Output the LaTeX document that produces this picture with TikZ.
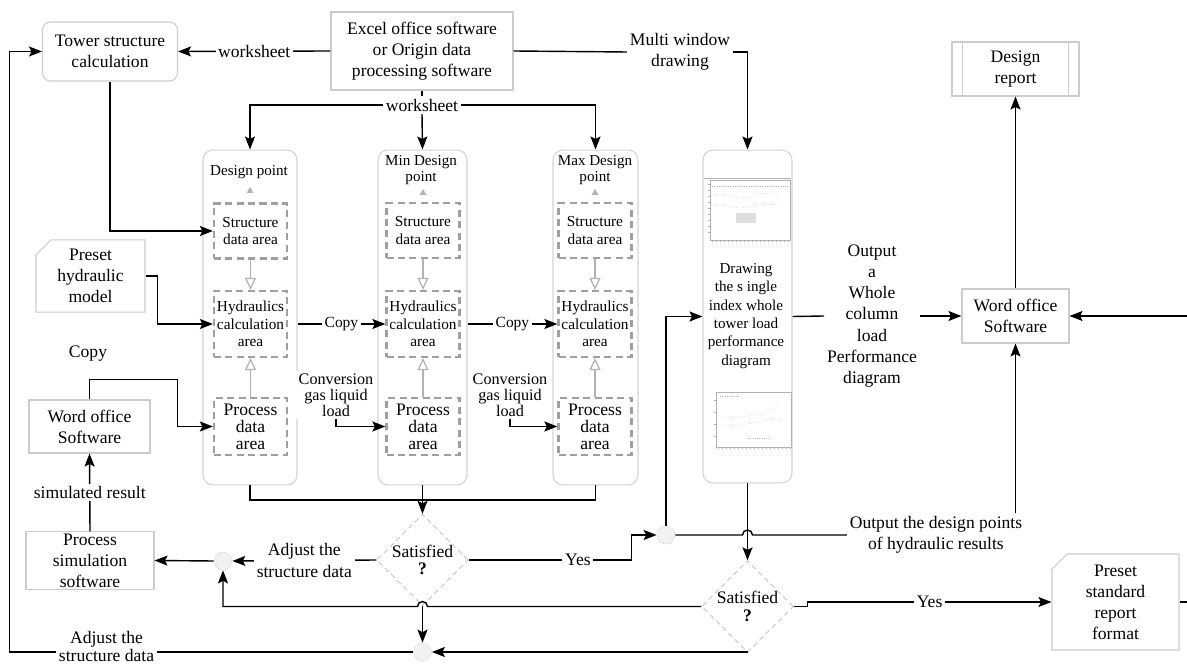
\documentclass[tikz,border=0pt]{standalone}
\usepackage{fontspec}
\setmainfont{Liberation Serif}
\usetikzlibrary{positioning,arrows.meta,shapes.geometric,shapes.misc,calc}

\begin{document}
\begin{tikzpicture}[
        x=0.02cm, y=0.02cm,
        box/.style={rectangle, draw=gray!40, line width=0.6pt, align=center, inner sep=1pt, font=\fontsize{10}{12}\selectfont},
        rbox/.style={box, rounded corners=0.16cm},
        cutbox/.style={box, chamfered rectangle, chamfered rectangle corners=north west, chamfered rectangle xsep=0.15cm, chamfered rectangle ysep=0.15cm},
        colbox/.style={rectangle, draw=gray!35, line width=0.6pt, rounded corners=0.2cm, minimum height=6.7cm},
        area/.style={rectangle, draw=gray!75, line width=1.3pt, dash pattern=on 4pt off 2.5pt, align=center, inner sep=0pt, minimum width=1.46cm, font=\fontsize{8.7}{10}\selectfont},
        procfont/.style={font=\fontsize{10}{9.6}\selectfont},
        lab/.style={fill=white, inner sep=1.5pt, align=center, font=\fontsize{10}{12}\selectfont},
        small/.style={align=center, inner sep=0pt, font=\fontsize{8.6}{8.8}\selectfont},
        dec/.style={diamond, draw=gray!55, densely dashed, line width=0.4pt, inner sep=0pt, align=center, minimum width=1.78cm, minimum height=1.08cm, font=\fontsize{10}{10}\selectfont},
        joint/.style={circle, draw=gray!55, densely dotted, fill=gray!10, minimum size=0.36cm, inner sep=0pt},
        tri/.style={regular polygon, regular polygon sides=3, fill=gray!60, inner sep=0pt, minimum size=0.16cm},
        arrow/.style={-{Stealth[length=2.6mm, width=2mm, inset=0.5mm]}, line width=0.8pt},
        garrow/.style={-{Triangle[open, length=2.4mm, width=2.2mm]}, draw=gray!60, line width=0.7pt}
    ]
    \useasboundingbox (0,0) rectangle (1187,-668);
    \clip (0,0) rectangle (1187,-668);

    % top row
    \node[rbox, minimum width=2.7cm, minimum height=1.18cm] (tower) at (110,-51.5) {Tower structure\\calculation};
    \node[box, minimum width=3.64cm, minimum height=1.56cm] (excel) at (422,-51) {Excel office software\\or Origin data\\processing software};
    \node[lab] (mwlab) at (680,-52) {Multi window\\drawing};
    \node[lab] (ws2) at (422,-105) {worksheet};

    % the three point columns
    \node[colbox, minimum width=1.88cm] (dcol) at (250,-317.5) {};
    \node[colbox, minimum width=1.78cm] (ncol) at (422.5,-317.5) {};
    \node[colbox, minimum width=1.7cm] (xcol) at (595.5,-317.5) {};

    \node[small] (dlab) at (249,-172) {Design point};
    \node[small] (nlab) at (421,-170) {Min Design\\point};
    \node[small] (xlab) at (595,-170) {Max Design\\point};
    \node[tri] (dtri) at (250,-191) {};
    \node[tri] (ntri) at (423,-193) {};
    \node[tri] (xtri) at (595,-193) {};

    \node[area, minimum height=1.1cm] (dstr) at (250.5,-231) {Structure\\data area};
    \node[area, minimum height=1.32cm] (dhyd) at (250.5,-324) {Hydraulics\\calculation\\area};
    \node[area, procfont, minimum height=1.14cm] (dproc) at (250.5,-426.5) {Process\\data\\area};
    \node[area, minimum height=1.1cm] (nstr) at (423,-230.5) {Structure\\data area};
    \node[area, minimum height=1.32cm] (nhyd) at (423,-324) {Hydraulics\\calculation\\area};
    \node[area, procfont, minimum height=1.14cm] (nproc) at (423,-426.5) {Process\\data\\area};
    \node[area, minimum height=1.1cm] (xstr) at (595,-230.5) {Structure\\data area};
    \node[area, minimum height=1.32cm] (xhyd) at (595,-324) {Hydraulics\\calculation\\area};
    \node[area, procfont, minimum height=1.14cm] (xproc) at (595,-426.5) {Process\\data\\area};

    % plot column
    \node[colbox, minimum width=1.78cm, minimum height=6.66cm] (plot) at (747.5,-316.5) {};
    \node[small, font=\fontsize{8.6}{10.4}\selectfont] (plottxt) at (746,-316) {Drawing\\the s ingle\\index whole\\tower load\\performance\\diagram};
    \begin{scope}[draw=gray!60, line width=0.3pt]
        \fill[white] (704,-178) rectangle (791,-248);
        \draw (704,-178) -- (791,-178);
        \draw (710,-180) rectangle (790,-240);
        \draw[densely dotted] (712,-186) -- (788,-186);
        \draw[densely dotted] (714,-195) -- (730,-195) -- (738,-198) -- (748,-198) -- (756,-194) -- (770,-193) -- (778,-196);
        \draw[densely dotted] (714,-205) -- (728,-205) -- (738,-208) -- (750,-207) -- (758,-204) -- (778,-205);
        \fill[gray!25] (736,-213) rectangle (756,-223);
        \foreach \t in {712,716,...,788} \draw (\t,-240) -- (\t,-242);
        \foreach \t in {184,190,...,236} \draw (710,-\t) -- (708,-\t);
        \draw (716,-392) rectangle (791,-447);
        \draw[densely dotted] (720,-396) -- (740,-396);
        \draw[densely dotted] (722,-418) -- (742,-417) -- (752,-414) -- (762,-414) -- (772,-410) -- (780,-404);
        \draw[densely dotted] (722,-426) -- (742,-425) -- (752,-423) -- (762,-422) -- (772,-418) -- (784,-420);
        \draw[densely dotted] (748,-438) -- (770,-438);
        \foreach \t in {718,722,...,790} \draw (\t,-447) -- (\t,-449);
        \foreach \t in {400,412,...,444} \draw (716,-\t) -- (714,-\t);
    \end{scope}

    % left side
    \node[cutbox, minimum width=2.18cm, minimum height=1.16cm] (presethyd) at (90.5,-276) {Preset\\hydraulic\\model};
    \node[lab] (copylab) at (88,-354) {Copy};
    \node[box, minimum width=2.42cm, minimum height=1.06cm] (wordL) at (89.5,-426.5) {Word office\\Software};
    \node[box, minimum width=2.56cm, minimum height=1.06cm] (procsim) at (90,-560.5) {Process\\simulation\\software};
    \node[lab, font=\fontsize{9.2}{9}\selectfont] (conv1) at (336,-395) {Conversion\\gas liquid\\load};
    \node[lab, font=\fontsize{9.2}{9}\selectfont] (conv2) at (510,-395) {Conversion\\gas liquid\\load};

    % decisions and joints
    \node[dec] (d1) at (422.5,-560) {Satisfied\\\textbf{?}};
    \node[dec] (d2) at (747.5,-606.5) {Satisfied\\\textbf{?}};
    \node[joint] (c1) at (223,-561) {};
    \node[joint] (c2) at (666,-535) {};
    \node[joint] (c3) at (422.5,-652) {};

    % right side
    \node[lab] (outa) at (872,-316) {Output\\a\\Whole\\column\\load\\Performance\\diagram};
    \node[box, minimum width=2.14cm, minimum height=1.08cm] (wordR) at (1015.5,-316) {Word office\\Software};
    \node[box, minimum width=2.54cm, minimum height=1.08cm] (rep) at (1015.5,-69) {Design\\report};
    \draw[gray!40, line width=0.6pt] ([xshift=0.22cm]rep.north west) -- ([xshift=0.22cm]rep.south west);
    \draw[gray!40, line width=0.6pt] ([xshift=-0.22cm]rep.north east) -- ([xshift=-0.22cm]rep.south east);
    \node[lab] (outlbl) at (936,-535) {Output the design points\\of hydraulic results};
    \node[cutbox, minimum width=2.54cm, minimum height=1.92cm] (preset) at (1115.5,-602) {Preset\\standard\\report\\format};

    % worksheet and drawing links
    \draw[arrow] (excel.west) -- node[lab]{worksheet} (tower.east);
    \draw[line width=0.8pt] (excel.east) -- (mwlab.west);
    \draw[arrow] (mwlab.east) -| (plot.north);
    \draw[line width=0.8pt] (excel.south) -- (ws2.north);
    \draw[arrow] (ws2.west) -| (dcol.north);
    \draw[arrow] (ws2.east) -| (xcol.north);
    \draw[arrow] (ws2.south) -- (ncol.north);

    % inputs of the design point column
    \draw[arrow] (tower.south) |- (dstr.west);
    \draw[arrow] (presethyd.east) -- ++(12,0) |- (dhyd.west);
    \draw[arrow] (wordL.north) -- ++(0,20) -- ++(88,0) |- (dproc.west);

    % inside the columns
    \foreach \c in {d,n,x} {
        \draw[garrow] (\c str.south) -- (\c hyd.north);
        \draw[garrow] (\c proc.north) -- (\c hyd.south);
    }

    % copies between columns
    \draw[arrow] (dhyd.east -| dcol.east) -- node[lab, font=\fontsize{8.8}{10}\selectfont]{Copy} (nhyd.west);
    \draw[arrow] (nhyd.east -| ncol.east) -- node[lab, font=\fontsize{8.8}{10}\selectfont]{Copy} (xhyd.west);
    \draw[arrow] (conv1.south) |- (nproc.west);
    \draw[arrow] (conv2.south) |- (xproc.west);

    % merging to the first check
    \coordinate (mrg) at (422.5,-500);
    \draw[line width=0.8pt] (dcol.south) |- (mrg);
    \draw[line width=0.8pt] (xcol.south) |- (mrg);
    \draw[arrow] (ncol.south) -- (d1.north);

    % first check
    \draw[arrow] (d1.east) -- node[lab, pos=0.67]{Yes} ++(163,0) |- (c2.west);
    \draw[arrow] (d1.west) -- node[lab]{Adjust the\\structure data} (c1.east);
    \draw[arrow] (c1.west) -- (procsim.east);
    \draw[arrow] (procsim.north) -- node[lab]{simulated result} (wordL.south);
    \draw[arrow] (d1.south) -- (c3.north);

    % plot column and second check
    \draw[arrow] (c2.north) |- (plot.west);
    \draw[line width=0.8pt] (c2.east) -- ([xshift=-0.1cm]plot.south |- c2.east) arc[start angle=180, end angle=0, radius=0.1cm] -- (outlbl.west);
    \draw[arrow] (outlbl.north -| wordR.south) -- (wordR.south);
    \draw[arrow] (plot.south) -- (d2.north);
    \draw[arrow] (d2.east) -- ++(14,0) |- node[lab, pos=0.75]{Yes} (preset.west);
    \draw[arrow] (d2.west) -- ([xshift=0.1cm]d1.south |- d2.west) arc[start angle=0, end angle=180, radius=0.1cm] -| (c1.south);
    \draw[arrow] (d2.south) |- (c3.east);
    \draw[arrow] (c3.west) -- node[lab, pos=0.76, font=\fontsize{10}{10.5}\selectfont, yshift=3pt]{Adjust the\\structure data} ++(-403.5,0) |- (tower.west);

    % report
    \draw[line width=0.8pt] (plot.east) -- (outa.west);
    \draw[arrow] (outa.east) -- (wordR.west);
    \draw[arrow] (wordR.north) -- (rep.south);
    \draw[arrow] (preset.east) -- ++(20,0) |- (wordR.east);

\end{tikzpicture}
\end{document}
